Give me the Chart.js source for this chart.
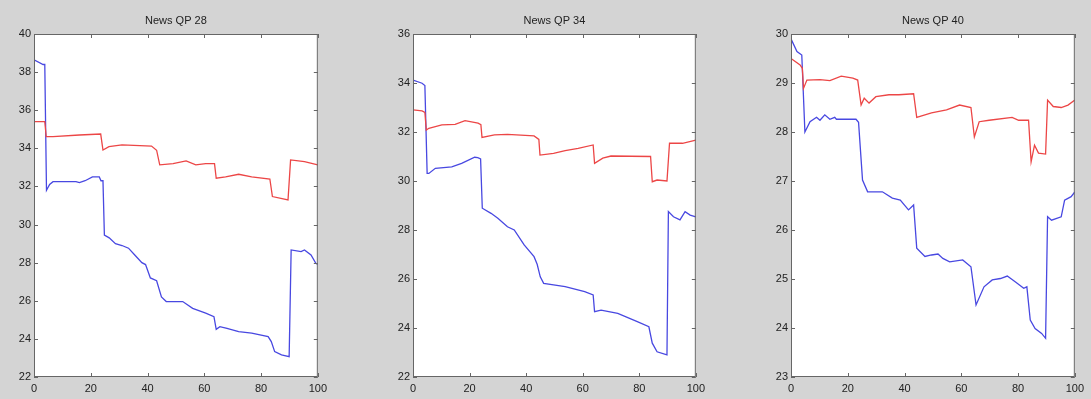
<!DOCTYPE html>
<html>
<head>
<meta charset="utf-8">
<script src="https://cdn.jsdelivr.net/npm/chart.js@4"></script>
<style>
  body { margin: 0; background: #d4d4d4; width: 1091px; height: 399px; overflow: hidden; position: relative; }
  canvas { position: absolute; top: 0; }
</style>
</head>
<body>
<canvas id="qp28" width="332" height="399" style="left:0px"></canvas>
<canvas id="qp34" width="330" height="399" style="left:380px"></canvas>
<canvas id="qp40" width="331" height="399" style="left:758px"></canvas>
<script>
// QP 28
const qp28BlueX = [0, 3.2, 3.8, 4.4, 5.5, 6.7, 14.8, 16, 18, 20.6, 23, 23.6, 24.3, 24.8, 26.5, 28.7, 31, 33.3, 35.5, 38, 39.3, 41, 43.2, 44.9, 46.6, 50.4, 52.4, 55.9, 60.5, 63.4, 64.2, 65.5, 68, 72.1, 76.7, 82.5, 83.6, 84.8, 87.2, 89.9, 90.6, 94.1, 95.3, 97.6, 99.3, 100];
const qp28Blue  = [38.65, 38.4, 38.4, 31.8, 32.1, 32.25, 32.25, 32.2, 32.3, 32.5, 32.5, 32.3, 32.3, 29.45, 29.3, 29.0, 28.9, 28.76, 28.4, 28.0, 27.9, 27.2, 27.05, 26.2, 25.96, 25.96, 25.96, 25.6, 25.35, 25.17, 24.5, 24.64, 24.55, 24.38, 24.3, 24.12, 23.86, 23.33, 23.16, 23.07, 28.67, 28.58, 28.67, 28.4, 27.97, 27.9];
const qp28RedX  = [0, 3.8, 4.3, 6.7, 16, 23.5, 24.3, 26.4, 31, 41.4, 43.2, 44.3, 49, 53.6, 57, 60.5, 63.6, 64.2, 67.5, 72.1, 76.7, 83.1, 84, 89.5, 90.4, 95.3, 100];
const qp28Red   = [35.4, 35.4, 34.61, 34.61, 34.7, 34.75, 33.91, 34.09, 34.18, 34.12, 33.9, 33.13, 33.2, 33.34, 33.13, 33.2, 33.2, 32.43, 32.5, 32.64, 32.5, 32.39, 31.47, 31.29, 33.39, 33.3, 33.13];

// QP 34
const qp34BlueX = [0, 3.2, 4.2, 5.0, 5.6, 7.9, 13.7, 17.2, 21.8, 22.9, 23.9, 24.5, 27.6, 30, 33.4, 35.8, 39.3, 42.8, 43.9, 45, 46.2, 49.7, 53.8, 60.7, 63.7, 64.2, 66.5, 72.4, 79.3, 83.4, 84.6, 86.3, 89.8, 90.3, 92.1, 94.4, 96.2, 98, 100];
const qp34Blue  = [34.12, 33.99, 33.9, 30.31, 30.31, 30.52, 30.58, 30.72, 30.97, 30.95, 30.9, 28.89, 28.68, 28.48, 28.13, 28.0, 27.39, 26.91, 26.6, 26.09, 25.82, 25.76, 25.69, 25.48, 25.35, 24.67, 24.73, 24.6, 24.26, 24.05, 23.38, 23.03, 22.9, 28.75, 28.54, 28.41, 28.75, 28.61, 28.54];
const qp34RedX  = [0, 3.2, 4.2, 4.7, 5.6, 10.2, 14.9, 18.4, 23, 24, 24.4, 28.8, 33.4, 42.8, 44.5, 44.9, 49.7, 53.8, 58.4, 63.7, 64.2, 67.1, 70, 84, 84.6, 86.3, 89.8, 90.7, 95.3, 100];
const qp34Red   = [32.9, 32.86, 32.8, 32.08, 32.15, 32.29, 32.31, 32.46, 32.36, 32.3, 31.78, 31.88, 31.9, 31.84, 31.7, 31.06, 31.13, 31.24, 31.33, 31.47, 30.72, 30.93, 31.02, 31.0, 29.97, 30.04, 30.0, 31.54, 31.54, 31.67];

// QP 40
const qp40BlueX = [0, 2.1, 3.8, 4.9, 6.7, 9, 10.2, 11.9, 13.7, 15.4, 16, 22.9, 23.8, 25.2, 27, 32.2, 35.7, 38.5, 41.4, 43.2, 44.3, 47.2, 49.5, 51.8, 53.5, 55.9, 60.5, 63.4, 65.2, 68, 70.9, 73.8, 76.2, 79.1, 82, 83.1, 84.3, 86, 88.3, 89.7, 90.4, 91.8, 95.2, 96.4, 98.7, 100];
const qp40Blue  = [29.9, 29.64, 29.57, 28.0, 28.21, 28.3, 28.24, 28.35, 28.26, 28.3, 28.26, 28.26, 28.2, 27.02, 26.78, 26.78, 26.65, 26.61, 26.41, 26.51, 25.63, 25.46, 25.49, 25.51, 25.42, 25.35, 25.39, 25.25, 24.47, 24.84, 24.98, 25.01, 25.06, 24.94, 24.81, 24.84, 24.16, 23.99, 23.89, 23.79, 26.27, 26.2, 26.27, 26.61, 26.68, 26.78];
const qp40RedX  = [0, 3.2, 4.0, 4.4, 5.6, 10.2, 13.7, 17.7, 21.8, 23.5, 24.7, 25.8, 27.5, 29.9, 34.5, 38, 43.2, 44.3, 49.5, 54.8, 59.4, 63.4, 64.6, 66.3, 69.8, 77.9, 80.2, 83.7, 84.6, 85.8, 87.2, 89.7, 90.4, 92.4, 95.2, 97.6, 100];
const qp40Red   = [29.5, 29.37, 29.3, 28.89, 29.06, 29.07, 29.05, 29.14, 29.1, 29.06, 28.55, 28.69, 28.59, 28.72, 28.76, 28.76, 28.78, 28.3, 28.39, 28.45, 28.55, 28.5, 27.9, 28.21, 28.24, 28.3, 28.24, 28.24, 27.39, 27.73, 27.57, 27.55, 28.65, 28.52, 28.5, 28.55, 28.65];

const xTicks = [0, 20, 40, 60, 80, 100];

const toPoints = (xs, ys) => xs.map((x, i) => ({ x: x, y: ys[i] }));

// white axes box, frame and inward tick marks (matlab look)
const axesBox = {
  id: 'axesBox',
  beforeDraw(chart) {
    const { ctx, chartArea: a } = chart;
    ctx.save();
    ctx.fillStyle = '#ffffff';
    ctx.fillRect(a.left, a.top, a.right - a.left, a.bottom - a.top);
    ctx.restore();
  },
  afterDatasetsDraw(chart) {
    const { ctx, chartArea: a, scales } = chart;
    const x = scales.x, y = scales.y;
    ctx.save();
    ctx.strokeStyle = '#666';
    ctx.lineWidth = 1;
    ctx.strokeRect(a.left + 0.5, a.top + 0.5, a.right - a.left - 1, a.bottom - a.top - 1);
    ctx.beginPath();
    x.ticks.forEach(t => {
      const px = Math.round(x.getPixelForValue(t.value)) + 0.5;
      ctx.moveTo(px, a.bottom); ctx.lineTo(px, a.bottom - 4);
      ctx.moveTo(px, a.top); ctx.lineTo(px, a.top + 4);
    });
    y.ticks.forEach(t => {
      const py = Math.round(y.getPixelForValue(t.value)) + 0.5;
      ctx.moveTo(a.left, py); ctx.lineTo(a.left + 4, py);
      ctx.moveTo(a.right, py); ctx.lineTo(a.right - 4, py);
    });
    ctx.stroke();
    ctx.restore();
  }
};

function makeChart(id, title, blueX, blue, redX, red, yMin, yMax, yStep, yWidth) {
  const ctx = document.getElementById(id).getContext('2d');
  return new Chart(ctx, {
    type: 'scatter',
    data: {
      datasets: [
        { data: toPoints(redX, red), showLine: true, borderColor: 'rgb(236, 70, 70)', borderWidth: 1.3, pointRadius: 0, tension: 0 },
        { data: toPoints(blueX, blue), showLine: true, borderColor: 'rgb(72, 72, 225)', borderWidth: 1.3, pointRadius: 0, tension: 0 }
      ]
    },
    options: {
      responsive: false,
      animation: false,
      devicePixelRatio: 1,
      layout: { padding: { top: 0, right: 10, bottom: 0, left: 0 } },
      plugins: {
        legend: { display: false },
        tooltip: { enabled: false },
        title: {
          display: true,
          text: title,
          fullSize: false,
          color: '#222',
          font: { family: 'Liberation Sans', size: 11, weight: 'normal' },
          padding: { top: 14, bottom: 6.8 }
        }
      },
      scales: {
        x: {
          type: 'linear',
          min: 0,
          max: 100,
          afterBuildTicks: s => { s.ticks = xTicks.map(v => ({ value: v })); },
          afterFit: s => { s.height = 22; },
          grid: { display: false, drawTicks: false },
          border: { display: false },
          ticks: { padding: 5, color: '#222', font: { family: 'Liberation Sans', size: 11 } }
        },
        y: {
          type: 'linear',
          min: yMin,
          max: yMax,
          afterFit: s => { s.width = yWidth; },
          grid: { display: false, drawTicks: false },
          border: { display: false },
          ticks: { stepSize: yStep, padding: 3, color: '#222', font: { family: 'Liberation Sans', size: 11 } }
        }
      }
    },
    plugins: [axesBox]
  });
}

makeChart('qp28', 'News QP 28', qp28BlueX, qp28Blue, qp28RedX, qp28Red, 22, 40, 2, 34);
makeChart('qp34', 'News QP 34', qp34BlueX, qp34Blue, qp34RedX, qp34Red, 22, 36, 2, 33);
makeChart('qp40', 'News QP 40', qp40BlueX, qp40Blue, qp40RedX, qp40Red, 23, 30, 1, 33);
</script>
</body>
</html>
